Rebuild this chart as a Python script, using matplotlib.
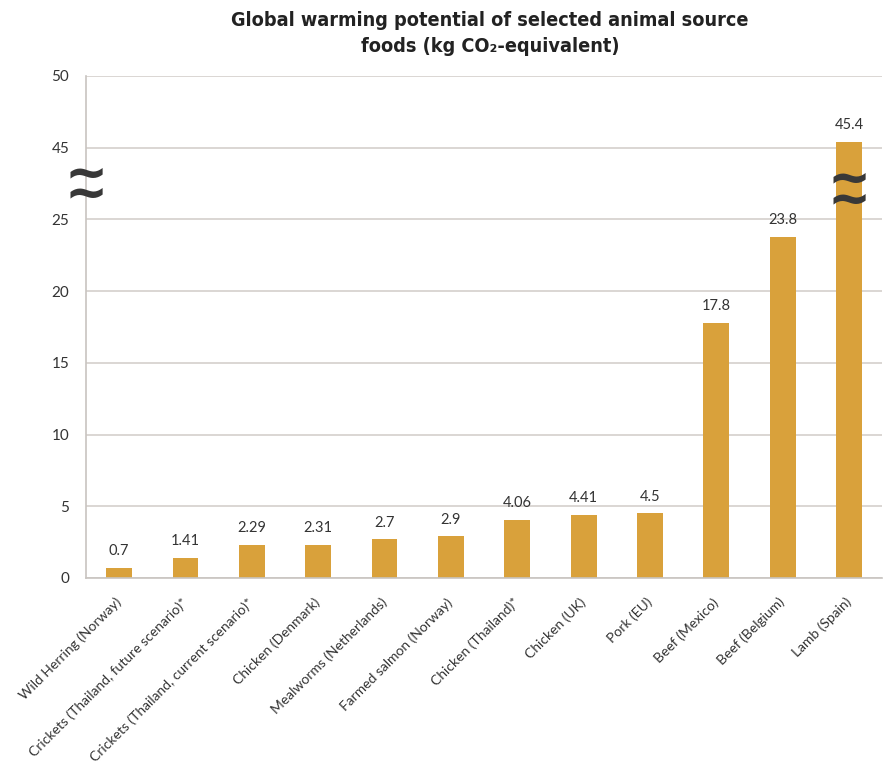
'''Bar chart of global warming potential for animal source foods, broken y axis'''
import numpy as np
import matplotlib
matplotlib.use('Agg')
import matplotlib.pyplot as plt

foods = ['Wild Herring (Norway)', 'Crickets (Thailand, future scenario)*',
         'Crickets (Thailand, current scenario)*', 'Chicken (Denmark)',
         'Mealworms (Netherlands)', 'Farmed salmon (Norway)', 'Chicken (Thailand)*',
         'Chicken (UK)', 'Pork (EU)', 'Beef (Mexico)', 'Beef (Belgium)', 'Lamb (Spain)']
gwp = [0.7, 1.41, 2.29, 2.31, 2.7, 2.9, 4.06, 4.41, 4.5, 17.8, 23.8, 45.4]
y_ticks = [0, 5, 10, 15, 20, 25, 45, 50]

BAR = '#d9a13b'
TEXT = '#333333'
GRID = '#d4d0cc'
LABEL_FONT = ['Lato', 'DejaVu Sans']
TITLE_FONT = ['DejaVu Sans']

# squeeze the 25-45 gap down to a single tick step
def fwd(v):
    v = np.asarray(v, dtype=float)
    return np.where(v <= 25, v, np.where(v <= 45, 25 + (v - 25) / 4, v - 15))

def inv(t):
    t = np.asarray(t, dtype=float)
    return np.where(t <= 25, t, np.where(t <= 30, 25 + (t - 25) * 4, t + 15))

fig = plt.figure(figsize=(8.83, 7.68), dpi=100)
ax = fig.add_axes([0.0974, 0.2474, 0.9016, 0.6537])
ax.set_yscale('function', functions=(fwd, inv))

x = np.arange(len(foods))
ax.bar(x, gwp, width=0.39, color=BAR, zorder=2)
for i, v in enumerate(gwp):
    ax.annotate(f'{v}', (i, v), xytext=(0, 7), textcoords='offset points',
                ha='center', va='bottom', fontsize=10.5, color=TEXT, family=LABEL_FONT)

ax.set_xlim(-0.5, len(foods) - 0.5)
ax.set_ylim(0, 50)
ax.set_yticks(y_ticks)
ax.set_yticklabels([str(t) for t in y_ticks], family=LABEL_FONT, fontsize=11, color=TEXT)
ax.yaxis.set_minor_locator(matplotlib.ticker.NullLocator())
ax.set_xticks(x)
ax.set_xticklabels(foods, rotation=45, ha='right', va='center', rotation_mode='anchor',
                   family=LABEL_FONT, fontsize=10, color=TEXT)
ax.tick_params(axis='x', length=0, pad=16)
ax.tick_params(axis='y', length=0, pad=12)

ax.yaxis.grid(True, color=GRID, lw=1.2)
ax.set_axisbelow(True)
for side in ('top', 'right'):
    ax.spines[side].set_visible(False)
for side in ('left', 'bottom'):
    ax.spines[side].set_color('#c8c4c0')
    ax.spines[side].set_linewidth(1.2)

# break marks on the axis and on the tall bar
for bx, by in [(-0.5, 34.5), (11, 33)]:
    ax.text(bx, by, '~\n~', ha='center', va='center', fontsize=37, fontweight='bold',
            color='#383838', family='DejaVu Sans', linespacing=0.25, zorder=5, clip_on=False)

fig.text(0.555, 0.986, 'Global warming potential of selected animal source\nfoods (kg CO₂-equivalent)',
         ha='center', va='top', fontsize=14.2, fontweight='bold', fontstretch='condensed',
         color='#222222', family=TITLE_FONT, linespacing=1.5)

fig.savefig('out.png', dpi=100)
